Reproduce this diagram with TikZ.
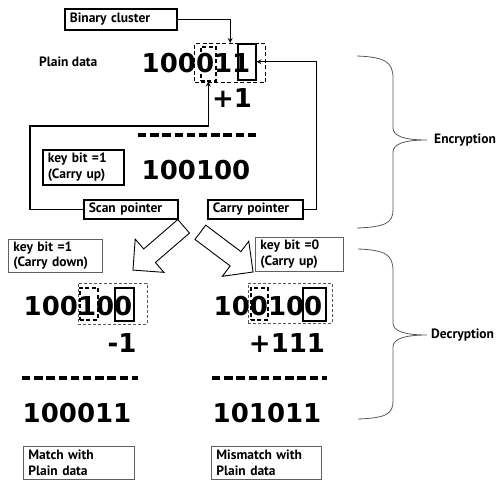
\documentclass[tikz,border=0pt]{standalone}
\usepackage{fontspec}
\setmainfont{PT Sans}
\newfontfamily\bitfont{DejaVu Sans}
\usetikzlibrary{shapes.arrows}

\begin{document}
\begin{tikzpicture}[x=1pt,y=-1pt,
        lbl/.style={font=\bfseries\fontsize{13.5}{15.5}\selectfont},
        tagbox/.style={draw,line width=1.6pt,lbl,align=left,anchor=north west,
                inner xsep=5pt,inner ysep=0pt},
        notebox/.style={tagbox,draw=gray!75!black,line width=0.8pt},
        bits/.style={font=\bitfont\bfseries\fontsize{26}{26}\selectfont,inner sep=0pt,anchor=base},
        sumline/.style={line width=3.5pt,dash pattern=on 8.4pt off 3.8pt},
        groupbox/.style={draw,anchor=north west,inner sep=0pt,line width=1.4pt,
                dash pattern=on 4pt off 2.5pt},
        thingroup/.style={groupbox,draw=gray!70!black,line width=0.8pt,dash pattern=on 3pt off 2pt},
        scanbox/.style={draw,anchor=north west,inner sep=0pt,line width=1.5pt,
                dash pattern=on 4pt off 2.5pt},
        carrybox/.style={draw,anchor=north west,inner sep=0pt,line width=1.5pt},
        ptr/.style={line width=1.2pt,-stealth},
        turn/.style={single arrow,draw,line width=0.9pt,fill=white,anchor=tail,
                inner xsep=0pt,inner ysep=8.5pt,single arrow head extend=13pt,
                minimum height=#1},
        brc/.style={gray!70!black,line width=0.8pt}]
    \useasboundingbox (0,0) rectangle (502,482);
    % encryption
    \node[tagbox,text width=102pt,minimum height=21pt] (bin) at (64,8) {Binary cluster};
    \node[lbl,inner sep=0pt,anchor=west] (plain) at (39,62) {Plain data};
    \node[bits] (data) at (196,72) {100011};
    \node[groupbox,minimum width=71pt,minimum height=39pt] (clusT) at (194,43) {};
    \node[scanbox,minimum width=15pt,minimum height=34pt] (scanT) at (200,46) {};
    \node[carrybox,minimum width=18pt,minimum height=36pt] (carT) at (237,43) {};
    \node[bits] (addT) at (232,107) {+1};
    \draw[sumline] (138,135) -- (257,135);
    \node[tagbox,text width=71pt,minimum height=35pt] (keyA) at (42,149) {key bit =1\\(Carry up)};
    \node[bits] (cipher) at (196,179) {100100};
    \node[tagbox,text width=84pt,minimum height=19pt] (scan) at (83,199) {Scan pointer};
    \node[tagbox,text width=85pt,minimum height=19pt] (carry) at (207,199) {Carry pointer};
    \draw[ptr] (bin.east) -| (clusT.north);
    \draw[ptr] (carry.east) -- ++(13,0) |- (carT.east);
    \coordinate (sbend) at (30,126);
    \draw[ptr] (scan.west) -| (sbend) -| (scanT.south);
    % decryption
    \node[turn=67pt,rotate=220.8] (toL) at (184,226) {};
    \node[turn=66pt,rotate=-37] (toR) at (200,232) {};
    \node[notebox,text width=84pt,minimum height=33pt] (keyB) at (8,239) {key bit =1\\(Carry down)};
    \node[notebox,text width=78pt,minimum height=34pt] (keyC) at (255,237) {key bit =0\\(Carry up)};
    \node[bits] (cipL) at (78,315) {100100};
    \node[thingroup,minimum width=69pt,minimum height=41pt] (clusL) at (78,283) {};
    \node[scanbox,minimum width=18pt,minimum height=32pt] (scanL) at (79,287) {};
    \node[carrybox,minimum width=19pt,minimum height=33pt] (carL) at (114,287) {};
    \node[bits] (subL) at (122,352) {-1};
    \draw[sumline] (22,378) -- (138,378);
    \node[bits] (outL) at (77,422) {100011};
    \node[notebox,text width=101pt,minimum height=33pt] (match) at (23,446) {Match with\\Plain data};
    \node[bits] (cipR) at (268,315) {100100};
    \node[thingroup,minimum width=84pt,minimum height=40pt] (clusR) at (248,283) {};
    \node[scanbox,minimum width=17pt,minimum height=32pt] (scanR) at (250,287) {};
    \node[carrybox,minimum width=23pt,minimum height=33pt] (carR) at (302,287) {};
    \node[bits] (addR) at (287,352) {+111};
    \draw[sumline] (212,378) -- (327,378);
    \node[bits] (outR) at (267,422) {101011};
    \node[notebox,text width=100pt,minimum height=33pt] (mismatch) at (211,446) {Mismatch with\\Plain data};
    % braces
    \draw[brc] (357,56) .. controls (385,57) and (393,62) .. (393,78) -- (393,128)
        .. controls (393,136) and (404,140) .. (427,140)
        .. controls (404,140) and (393,144) .. (393,152) -- (393,210)
        .. controls (393,223) and (385,227) .. (357,228);
    \node[lbl,inner sep=0pt,anchor=west] (enc) at (434,140) {Encryption};
    \draw[brc] (358,249) .. controls (386,250) and (393,255) .. (393,271) -- (393,323)
        .. controls (393,331) and (404,335) .. (427,335)
        .. controls (404,335) and (393,339) .. (393,347) -- (393,401)
        .. controls (393,414) and (386,418) .. (358,419);
    \node[lbl,inner sep=0pt,anchor=west] (dec) at (431,335) {Decryption};
\end{tikzpicture}
\end{document}
